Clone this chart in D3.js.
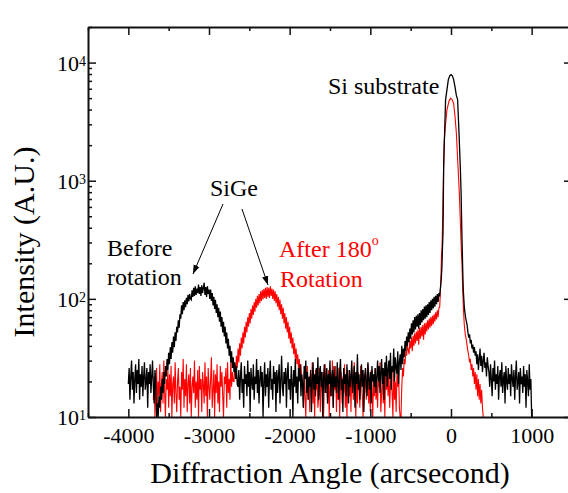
<!DOCTYPE html>
<html>
<head>
<meta charset="utf-8">
<script src="https://cdn.jsdelivr.net/npm/d3@7"></script>
<style>
  html, body { margin: 0; padding: 0; background: #fff; }
  svg { display: block; font-family: "Liberation Serif", "Times New Roman", serif; }
  .axis path.domain { stroke: #111; stroke-width: 2; }
  .axis line { stroke: #111; stroke-width: 1.5; }
</style>
</head>
<body>
<svg id="chart" width="568" height="493"></svg>
<script>
/* ---------- Data (arcsecond / intensity) ---------- */

// Before rotation (black), sampled every 10 arcsec from -4000 to -150
const blackBackLeft = [19,26,14,22,30,17,24,13,21,28, 16,25,19,31,14,23,18,27,15,22,
  29,17,20,26,12,24,19,28,16,22, 30,18,13,25,20];
const blackSiGeRise = [10,13,10,15,12,18,14,21,16,24, 19,27,22,31,25,35,28,39,31,43,
  35,48,39,52,44,58,52,66,57,74, 68,88,74,94,80,97,85,102,90,108,95,110,100];
const blackSiGeTop = [98,118,104,124,106,128,108,122,112,132,110,126,
  106,130,112,124,137,108,126,104,128,110,120];
const blackSiGeFall = [100,120,96,112,88,104,82,98,76,90, 70,84,64,78,58,70,52,64,48,58,
  42,52,38,46,33,40,29,36,26,32, 24,29,21,27,19];
const blackBackMid = [18,25,14,22,29,16,21,12,27,19, 23,15,30,18,24,11,26,20,17,28,
  14,22,19,31,16,25,13,21,27,18, 24,10,20,29,15,23,18,26,12,22,
  30,17,21,14,27,19,24,11,25,16, 22,28,13,20,33,18,15,24,19,26,
  12,23,29,17,21,14,27,20,10,25, 18,31,16,22,13,26,20,28,15,23,
  19,12,27,21,30,16,24,14,22,18, 25,11,20,29,17,23,15,26,19,32,
  14,21,27,18,24,10,22,28,16,20, 26,13,23,19,30,15,21,25,12,27,
  18,22,16,29,20,14,24,31,17,21, 11,26,19,23,15,28,20,13,25,18,
  22,30,16,21,27,12,24,19,34,17, 23,14,20,28,18,25,11,22,26,19,
  15,29,21,17,24,13,27,20,23,18, 26,16,22,30];
const blackShoulder = [20,27,16,24,31,19,26,14,29,22, 33,18,25,30,21,35,17,27,24,38,
  20,32,26,23,36,19,29,34,25,40,
  28,38,32,44,36,48,40,52,43,56, 46,62,50,66,52,70,55,72,58,74,
  56,76,60,80,63,82,66,86,68,88, 70,90,73,94,76,97,80,100,83,104,
  86,106,90,110,94,112];
// Si substrate peak (black), [arcsec, intensity]
const blackPeak = [[-140,108],[-130,125],[-120,150],[-112,190],[-105,280],[-99,360],
  [-95,700],[-91,1320],[-85,1900],[-79,2560],[-67,4860],[-50,5900],[-33,7180],
  [-15,7750],[0,7900],[15,7750],[33,7180],[50,6200],[66,5300],[82,4860],[99,2560],
  [115,1320],[125,800],[136,330],[145,180],[152,120],[165,85],[180,70],[200,60]];
// black tail, every 10 arcsec from 210 to 1000
const blackTail = [52,47,50,42,45,38,41,35,39,33,
  36,28,34,25,31,38,27,33,24,30,35,26,29,22,32,27,
  24,18,28,21,15,26,20,30,17,23, 19,27,14,22,25,18,29,16,21,24,
  13,27,20,17,26,19,23,15,28,21, 18,25,14,22,30,17,20,24,13,26,
  19,22,16,27,18,23,12,25,20,15, 28,17,21,10];

// After 180° rotation (red), every 10 arcsec from -3690 to -150
const redBackLeft = [14,22,10,18,26,12,20,15,28,11, 19,24,13,30,16,10,21,17,25,12,
  23,15,27,10,19,22,13,29,16,11, 20,26,14,18,10,24,17,31,12,21,
  15,28,11,19,23,13,26,10,18,22, 16,30,12,20,14,25,10,27,17,21,
  11,24,19,13,29,15,22,10,26,18, 14,21,32,12,17,25,10,23,16,28,
  13,20,11,27,18,24,15,10,22,19, 26,12,29,16,21,14,30,18,24,20];
const redSiGe = [20,28,22,33,26,38,29,42,33,47, 38,52,42,58,47,64,52,70,58,76,
  62,82,68,88,73,94,78,100,84,106, 88,110,92,116,96,119,99,121,102,124,
  100,126,104,124,102,128,106,122,100,120, 96,116,92,110,86,104,80,98,74,90,
  68,84,62,76,56,70,52,64,46,58, 42,52,38,47,34,42,31,38,28,34, 25,31,23,28,21];
const redBackMid = [18,12,24,15,10,21,27,14,19,11, 23,16,29,13,20,10,25,17,22,12,
  15,26,11,19,24,14,10,21,28,16, 20,13,25,10,18,23,15,30,12,22,
  17,27,11,21,14,26,10,19,24,13, 22,16,28,12,20,10,25,18,15,23,
  11,26,19,14,29,17,10,22,13,24, 18,12,27,20,15,10,23,16,26,14,
  21,28,13,19,11,25,17,10,22,15, 26,14,20,12,24,18,29,11,16,23,
  13,21,10,27,17,22,15,25,12,19, 24,16,10,28,14,20,11,23,18,26, 12,10];
const redShoulder = [10,18,26,22,31,28,36,33,40,37, 34,44,38,47,36,49,40,51,42,53,
  44,55,41,57,46,58,48,60,45,62, 50,63,53,66,55,68,57,70,59,72,
  61,74,64,77,67,80,70,84];
const redPeak = [[-140,85],[-133,110],[-125,150],[-118,230],[-111,270],[-107,360],
  [-99,690],[-91,1320],[-83,2200],[-70,2900],[-50,4000],[-25,4700],[-5,5000],
  [15,4850],[33,4500],[50,3500],[66,2560],[87,1320],[103,790],[115,470],[128,260],
  [136,200],[145,120],[155,80],[165,60],[177,50],[190,45],[200,40]];
// red tail, every 10 arcsec from 210 to 400
const redTail = [36,33,29,31,25,28,22,26,19,24,17,23,15,21,14,19,13,17,12,10];

const xMajor = [-4000, -3000, -2000, -1000, 0, 1000];
const xMinor = [-4500, -3500, -2500, -1500, -500, 500, 1500];
const yMajor = [10, 100, 1000, 10000];

/* ---------- Helpers ---------- */
const sampled = (x0, vals) => vals.map((v, i) => [x0 + i * 10, v]);

const blackSeries = [
  ...sampled(-4000, [...blackBackLeft, ...blackSiGeRise, ...blackSiGeTop,
    ...blackSiGeFall, ...blackBackMid, ...blackShoulder]),
  ...blackPeak,
  ...sampled(210, blackTail)
];
const redSeries = [
  ...sampled(-3690, [...redBackLeft, ...redSiGe, ...redBackMid, ...redShoulder]),
  ...redPeak,
  ...sampled(210, redTail)
];

/* ---------- Layout ---------- */
const plotL = 88, plotR = 572, plotT = 27, plotB = 417;
const svg = d3.select('#chart');

const x = d3.scaleLinear().domain([-4500, 1500]).range([plotL, plotR]);
const y = d3.scaleLog().domain([10, 20000]).range([plotB, plotT]);

const yMinor = [];
[10, 100, 1000, 10000].forEach(p => {
  for (let k = 2; k <= 9; k++) if (p * k <= 20000) yMinor.push(p * k);
});

const defs = svg.append('defs');
defs.append('clipPath').attr('id', 'plot-clip')
  .append('rect').attr('x', plotL).attr('y', plotT)
  .attr('width', plotR - plotL).attr('height', plotB - plotT);

// ---------- Curves ----------
const line = d3.line().x(d => x(d[0])).y(d => y(Math.max(d[1], 9)));
const curves = svg.append('g').attr('clip-path', 'url(#plot-clip)');

curves.append('path').datum(redSeries)
  .attr('d', line).attr('fill', 'none')
  .attr('stroke', '#ff0000').attr('stroke-width', 1.1);

curves.append('path').datum(blackSeries)
  .attr('d', line).attr('fill', 'none')
  .attr('stroke', '#000').attr('stroke-width', 1.3);

// ---------- Axes (ticks point inward) ----------
const fontSize = 22;

svg.append('g').attr('class', 'axis')
  .attr('transform', `translate(0,${plotB})`)
  .call(d3.axisBottom(x).tickValues(xMajor).tickSize(-8).tickSizeOuter(0)
    .tickPadding(10).tickFormat(d => String(d)))
  .call(g => g.selectAll('text').attr('fill', '#000')
    .style('font-size', fontSize + 'px').style('font-family', 'Liberation Serif, serif'));

svg.append('g').attr('class', 'axis')
  .attr('transform', `translate(0,${plotB})`)
  .call(d3.axisBottom(x).tickValues(xMinor).tickSize(-4).tickFormat(''))
  .call(g => g.select('.domain').remove());

svg.append('g').attr('class', 'axis')
  .attr('transform', `translate(0,${plotT})`)
  .call(d3.axisTop(x).tickValues(xMajor).tickSize(-8).tickSizeOuter(0).tickFormat(''));

svg.append('g').attr('class', 'axis')
  .attr('transform', `translate(0,${plotT})`)
  .call(d3.axisTop(x).tickValues(xMinor).tickSize(-4).tickFormat(''))
  .call(g => g.select('.domain').remove());

const yAxisLeft = svg.append('g').attr('class', 'axis')
  .attr('transform', `translate(${plotL},0)`)
  .call(d3.axisLeft(y).tickValues(yMajor).tickSize(-8).tickSizeOuter(0).tickFormat(''));

yAxisLeft.selectAll('.tick').append('text')
  .attr('x', -2).attr('dy', '0.35em')
  .attr('text-anchor', 'end').attr('fill', '#000')
  .style('font-size', fontSize + 'px')
  .style('font-family', 'Liberation Serif, serif')
  .each(function(d) {
    const t = d3.select(this);
    t.append('tspan').text('10');
    t.append('tspan').attr('dy', -5).style('font-size', '14px')
      .text(Math.round(Math.log10(d)));
  });

svg.append('g').attr('class', 'axis')
  .attr('transform', `translate(${plotL},0)`)
  .call(d3.axisLeft(y).tickValues(yMinor).tickSize(-4).tickFormat(''))
  .call(g => g.select('.domain').remove());

svg.append('g').attr('class', 'axis')
  .attr('transform', `translate(${plotR},0)`)
  .call(d3.axisRight(y).tickValues(yMajor).tickSize(-8).tickSizeOuter(0).tickFormat(''));

svg.append('g').attr('class', 'axis')
  .attr('transform', `translate(${plotR},0)`)
  .call(d3.axisRight(y).tickValues(yMinor).tickSize(-4).tickFormat(''))
  .call(g => g.select('.domain').remove());

// ---------- Axis titles ----------
svg.append('text')
  .attr('x', (plotL + plotR) / 2).attr('y', 483)
  .attr('text-anchor', 'middle').style('font-size', '30px')
  .text('Diffraction Angle (arcsecond)');

svg.append('text')
  .attr('transform', 'translate(34,242) rotate(-90)')
  .attr('text-anchor', 'middle').style('font-size', '30px')
  .text('Intensity (A.U.)');

// ---------- Annotations ----------
const note = (tx, ty, str, color) => svg.append('text')
  .attr('x', tx).attr('y', ty).attr('fill', color || '#000')
  .style('font-size', '24px').text(str);

note(328, 94, 'Si substrate');
note(210, 196, 'SiGe');
note(107, 256, 'Before');
note(107, 285, 'rotation');

const after = note(279, 257, 'After 180', '#ff0000');
after.append('tspan').attr('dy', -12).style('font-size', '14px').text('o');
note(280, 287, 'Rotation', '#ff0000');

defs.append('marker')
  .attr('id', 'arrow').attr('viewBox', '0 0 10 10')
  .attr('refX', 10).attr('refY', 5)
  .attr('markerWidth', 9).attr('markerHeight', 9)
  .attr('markerUnits', 'userSpaceOnUse')
  .attr('orient', 'auto')
  .append('path').attr('d', 'M0,1.5 L10,5 L0,8.5 Z').attr('fill', '#000');

[[223, 204, 193, 274], [242, 209, 268, 285]].forEach(([x1, y1, x2, y2]) => {
  svg.append('line')
    .attr('x1', x1).attr('y1', y1).attr('x2', x2).attr('y2', y2)
    .attr('stroke', '#000').attr('stroke-width', 1)
    .attr('marker-end', 'url(#arrow)');
});
</script>
</body>
</html>
